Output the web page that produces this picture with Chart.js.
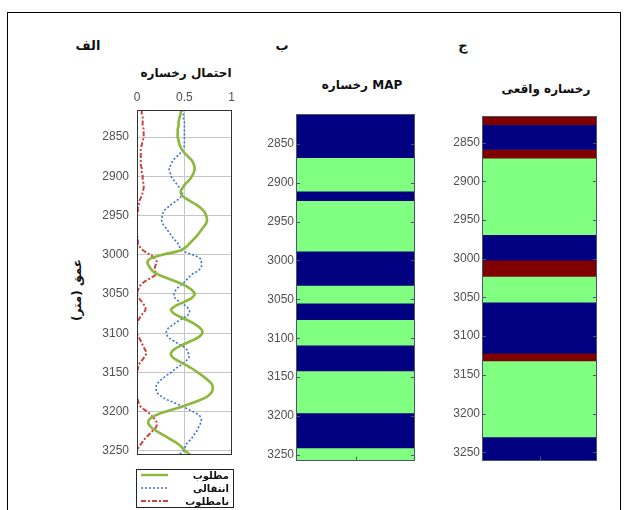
<!DOCTYPE html>
<html>
<head>
<meta charset="utf-8">
<script src="https://cdn.jsdelivr.net/npm/chart.js@4.4.0/dist/chart.umd.min.js"></script>
<style>
  html,body{margin:0;padding:0;background:#fff;}
  body{width:628px;height:510px;overflow:hidden;position:relative;font-family:"DejaVu Sans",sans-serif;}
  .frame{position:absolute;left:7px;top:12px;width:614px;height:520px;border:1px solid #000;box-sizing:border-box;}
  .t{position:absolute;font-weight:bold;color:#111;white-space:nowrap;transform:translate(-50%,-50%);direction:ltr;}
  canvas{position:absolute;}
  #ylab{position:absolute;left:77px;top:290px;transform:translate(-50%,-50%) rotate(-90deg);font-weight:bold;font-size:12px;color:#111;white-space:nowrap;direction:rtl;}
  #legend{position:absolute;left:136px;top:469px;}
</style>
</head>
<body>
<div class="frame"></div>

<div class="t" style="left:88px;top:45px;font-size:13px;">الف</div>
<div class="t" style="left:186px;top:73px;font-size:12px;">احتمال رخساره</div>
<div class="t" style="left:282px;top:45px;font-size:13px;">ب</div>
<div class="t" style="left:362px;top:85px;font-size:12px;">رخساره MAP</div>
<div class="t" style="left:463px;top:45px;font-size:13px;">ج</div>
<div class="t" style="left:546px;top:89px;font-size:12px;">رخساره واقعی</div>
<div id="ylab">عمق (متر)</div>

<canvas id="c1" width="180" height="382" style="left:60px;top:88px;"></canvas>
<canvas id="c2" width="170" height="365" style="left:250px;top:105px;"></canvas>
<canvas id="c3" width="167" height="364" style="left:435px;top:106px;"></canvas>

<svg id="legend" width="99" height="40" xmlns="http://www.w3.org/2000/svg">
  <rect x="0.5" y="0.5" width="97" height="38" fill="#fff" stroke="#222" stroke-width="1"/>
  <line x1="5" y1="6" x2="32" y2="6" stroke="#8cb83c" stroke-width="2.4"/>
  <line x1="5" y1="19" x2="32" y2="19" stroke="#3f6fd6" stroke-width="1.6" stroke-dasharray="2,2"/>
  <line x1="5" y1="32" x2="32" y2="32" stroke="#cf4040" stroke-width="2" stroke-dasharray="5,2,2,2"/>
  <text x="93" y="10" text-anchor="end" font-family="DejaVu Sans" font-weight="bold" font-size="10" fill="#111">مطلوب</text>
  <text x="93" y="23" text-anchor="end" font-family="DejaVu Sans" font-weight="bold" font-size="10" fill="#111">انتقالی</text>
  <text x="93" y="36" text-anchor="end" font-family="DejaVu Sans" font-weight="bold" font-size="10" fill="#111">نامطلوب</text>
</svg>

<script>
// ---------- DATA ----------
const depthTicks = [2850, 2900, 2950, 3000, 3050, 3100, 3150, 3200, 3250];
const probTicks = [0, 0.5, 1];
const faciesNames = ['مطلوب', 'انتقالی', 'نامطلوب'];
const faciesColors = ['#80ff80', '#000080', '#800000'];

const depths = [
  2815,2820,2825,2830,2835,2840,2845,2850,2855,2860,2865,2870,2875,2880,2885,2890,2895,2900,
  2905,2910,2915,2920,2925,2930,2935,2940,2945,2950,2955,2960,2965,2970,2975,2980,2985,2990,
  2995,3000,3005,3010,3015,3020,3025,3030,3035,3040,3045,3050,3055,3060,3065,3070,3075,3080,
  3085,3090,3095,3100,3105,3110,3115,3120,3125,3130,3135,3140,3145,3150,3155,3160,3165,3170,
  3175,3180,3185,3190,3195,3200,3205,3210,3215,3220,3225,3230,3235,3240,3245,3250,3255,3260
];
const pGood = [
  .47,.46,.45,.44,.44,.43,.43,.43,.44,.45,.47,.50,.54,.58,.60,.61,.60,.58,
  .55,.51,.48,.46,.48,.54,.61,.67,.71,.73,.74,.73,.70,.67,.64,.60,.56,.52,
  .45,.27,.14,.11,.13,.16,.22,.32,.43,.52,.58,.61,.58,.50,.41,.36,.39,.47,
  .56,.63,.68,.69,.65,.57,.48,.40,.36,.37,.43,.51,.58,.64,.70,.75,.79,.80,
  .79,.75,.67,.56,.44,.30,.19,.13,.12,.15,.21,.28,.35,.42,.47,.51,.56,.61
];
const pTrans = [
  .48,.49,.49,.50,.50,.50,.50,.50,.50,.50,.49,.46,.42,.38,.36,.34,.35,.36,
  .39,.42,.45,.48,.47,.43,.37,.32,.28,.27,.26,.27,.30,.33,.36,.39,.43,.45,
  .48,.59,.67,.68,.68,.65,.58,.54,.50,.45,.41,.39,.40,.45,.51,.55,.55,.50,
  .43,.37,.32,.31,.33,.39,.46,.52,.54,.55,.52,.47,.41,.36,.30,.25,.21,.20,
  .21,.25,.32,.42,.51,.59,.66,.68,.67,.65,.63,.60,.57,.53,.51,.49,.44,.39
];
const pBad = [
  .05,.05,.06,.06,.06,.07,.07,.07,.06,.05,.04,.04,.04,.04,.04,.05,.05,.06,
  .06,.07,.07,.06,.05,.03,.02,.01,.01,0,0,0,0,0,0,.01,.01,.03,
  .07,.14,.19,.21,.19,.19,.20,.14,.07,.03,.01,0,.02,.05,.08,.09,.06,.03,
  .01,0,0,0,.02,.04,.06,.08,.10,.08,.05,.02,.01,0,0,0,0,0,
  0,0,.01,.02,.05,.11,.15,.19,.21,.20,.16,.12,.08,.05,.02,0,0,0
];

// MAP facies column (boundaries in depth, facies index per interval)
const mapBounds = [2812, 2868, 2911, 2923, 2988, 3032, 3055, 3076, 3109, 3142, 3196, 3241, 3257.5];
const mapFacies = [1, 0, 1, 0, 1, 0, 1, 0, 1, 0, 1, 0];
// Real facies column
const realBounds = [2815.7, 2827, 2859, 2870, 2969, 3002, 3023, 3056, 3122, 3132, 3230, 3261];
const realFacies = [2, 1, 2, 0, 1, 2, 0, 1, 2, 0, 1];

// probability panel depth window
const probDepthRange = [2815.5, 3255];

// ---------- CHARTS ----------
Chart.defaults.font.family = '"Liberation Sans", Arial, sans-serif';

const framePlugin = {
  id: 'frameTicks',
  afterDatasetsDraw(chart, args, opts) {
    const {ctx, chartArea: a, scales: {y}} = chart;
    ctx.save();
    ctx.strokeStyle = opts.color || '#444';
    ctx.lineWidth = 1;
    if (opts.ticks) {
      y.ticks.forEach(t => {
        const py = Math.round(y.getPixelForValue(t.value)) + 0.5;
        ctx.beginPath();
        ctx.moveTo(a.left, py); ctx.lineTo(a.left + 4, py);
        ctx.moveTo(a.right, py); ctx.lineTo(a.right - 4, py);
        ctx.stroke();
      });
      const cx = Math.round((a.left + a.right) / 2) + 0.5;
      ctx.beginPath(); ctx.moveTo(cx, a.bottom); ctx.lineTo(cx, a.bottom - 4); ctx.stroke();
    }
    ctx.strokeRect(Math.round(a.left) + 0.5, Math.round(a.top) + 0.5, Math.round(a.width) - 1, Math.round(a.height) - 1);
    ctx.restore();
  }
};

const tickFont = {family: '"Liberation Sans", Arial, sans-serif', size: 12};
const tickColor = '#505050';

// Panel 1: facies probabilities
new Chart(document.getElementById('c1'), {
  type: 'scatter',
  data: {
    datasets: [
      {label: faciesNames[0], data: depths.map((d, i) => ({x: pGood[i], y: d})), showLine: true,
       borderColor: '#8cb83c', borderWidth: 2.6, pointRadius: 0, tension: 0.35, fill: false},
      {label: faciesNames[1], data: depths.map((d, i) => ({x: pTrans[i], y: d})), showLine: true,
       borderColor: '#3f6fd6', borderWidth: 1.6, borderDash: [2, 2], pointRadius: 0, tension: 0.35, fill: false},
      {label: faciesNames[2], data: depths.map((d, i) => ({x: pBad[i], y: d})), showLine: true,
       borderColor: '#cf4040', borderWidth: 2, borderDash: [5, 2, 2, 2], pointRadius: 0, tension: 0.35, fill: false}
    ]
  },
  options: {
    responsive: false, animation: false, devicePixelRatio: 1,
    layout: {padding: {top: 0, right: 7, bottom: 3, left: 0}},
    plugins: {legend: {display: false}, tooltip: {enabled: false}, frameTicks: {color: '#333', ticks: false}},
    scales: {
      x: {
        type: 'linear', position: 'top', min: 0, max: 1,
        afterBuildTicks: s => { s.ticks = probTicks.map(v => ({value: v})); },
        afterFit: s => { s.height = 22; },
        grid: {color: '#c6c6c6', drawTicks: false},
        border: {display: false},
        ticks: {padding: 5, color: tickColor, font: tickFont, callback: v => String(v), maxRotation: 0}
      },
      y: {
        type: 'linear', reverse: true, min: probDepthRange[0], max: probDepthRange[1],
        afterBuildTicks: s => { s.ticks = depthTicks.map(v => ({value: v})); },
        afterFit: s => { s.width = 77; },
        grid: {color: '#c6c6c6', drawTicks: false},
        border: {display: false},
        ticks: {padding: 8, color: tickColor, font: tickFont, callback: v => String(v)}
      }
    }
  },
  plugins: [framePlugin]
});

function faciesColumn(canvasId, bounds, facies, yWidth, pad) {
  const datasets = facies.map((f, i) => ({
    label: faciesNames[f],
    data: [[bounds[i], bounds[i + 1]]],
    backgroundColor: faciesColors[f],
    borderWidth: 0,
    barPercentage: 1,
    categoryPercentage: 1,
    grouped: false
  }));
  new Chart(document.getElementById(canvasId), {
    type: 'bar',
    data: {labels: [''], datasets},
    options: {
      responsive: false, animation: false, devicePixelRatio: 1,
      layout: {padding: pad},
      plugins: {legend: {display: false}, tooltip: {enabled: false}, frameTicks: {color: '#4a5570', ticks: true}},
      scales: {
        x: {display: false, offset: true},
        y: {
          type: 'linear', reverse: true, min: bounds[0], max: bounds[bounds.length - 1],
          afterBuildTicks: s => { s.ticks = depthTicks.map(v => ({value: v})); },
          afterFit: s => { s.width = yWidth; },
          grid: {display: false, drawTicks: false},
          border: {display: false},
          ticks: {padding: 2, color: tickColor, font: tickFont, callback: v => String(v)}
        }
      }
    },
    plugins: [framePlugin]
  });
}

faciesColumn('c2', mapBounds, mapFacies, 46, {top: 8, right: 5, bottom: 3, left: 0});
faciesColumn('c3', realBounds, realFacies, 47, {top: 10, right: 5, bottom: 3, left: 0});
</script>
</body>
</html>
